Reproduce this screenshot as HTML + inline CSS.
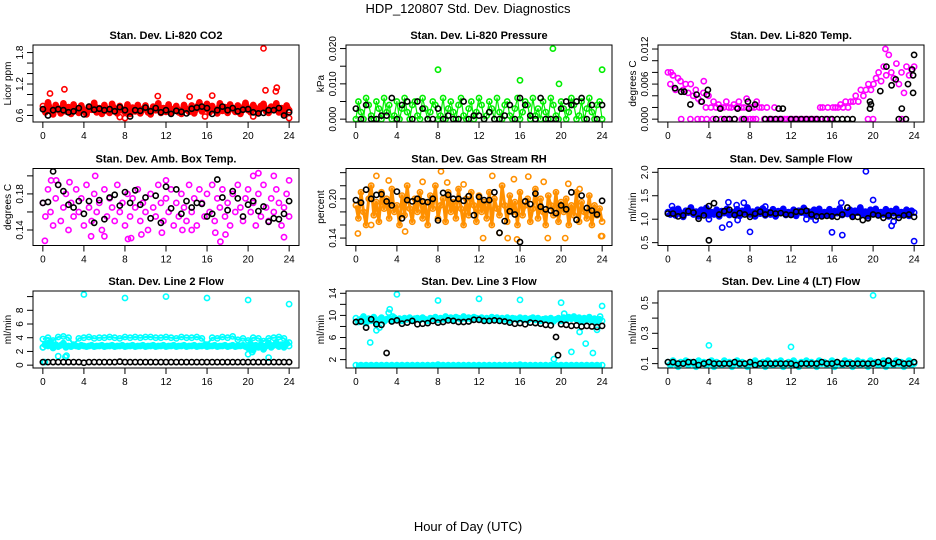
<!DOCTYPE html>
<html><head><meta charset="utf-8"><style>
body{margin:0;background:#fff}
svg{display:block;font-family:"Liberation Sans",Arial,sans-serif}
</style></head><body>
<svg id="chart" width="936" height="540" viewBox="0 0 936 540">
<text x="468" y="13" text-anchor="middle" font-size="13">HDP_120807 Std. Dev. Diagnostics</text>
<text x="468" y="531" text-anchor="middle" font-size="13">Hour of Day (UTC)</text>
</svg>
<script>
// ---- data ----
const xTicks=[0,4,8,12,16,20,24];
const titles=["Stan. Dev. Li-820 CO2","Stan. Dev. Li-820 Pressure","Stan. Dev. Li-820 Temp.","Stan. Dev. Amb. Box Temp.","Stan. Dev. Gas Stream RH","Stan. Dev. Sample Flow","Stan. Dev. Line 2 Flow","Stan. Dev. Line 3 Flow","Stan. Dev. Line 4 (LT) Flow"];
const yTitles=["Licor ppm","kPa","degrees C","degrees C","percent","ml/min","ml/min","ml/min","ml/min"];
const yLims=[[0.53,1.89],[0,0.0202],[0,0.0122],[0.126,0.205],[0.133,0.242],[0.5,2.02],[0,10.4],[1,13.9],[0.09,0.56]];
const yTickVals=[[0.6,0.8,1.0,1.2,1.4,1.6,1.8],[0,0.005,0.01,0.015,0.02],[0,0.002,0.004,0.006,0.008,0.01,0.012],[0.14,0.16,0.18,0.20],[0.14,0.16,0.18,0.20,0.22,0.24],[0.5,1.0,1.5,2.0],[0,2,4,6,8,10],[2,4,6,8,10,12,14],[0.1,0.2,0.3,0.4,0.5]];
const yTickLabels=[["0.6","","","1.2","","","1.8"],["0.000","","0.010","","0.020"],["0.000","","","0.006","","","0.012"],["0.14","","0.18",""],["0.14","","","0.20","",""],["0.5","1.0","1.5","2.0"],["0","2","4","6","8",""],["2","","6","","10","","14"],["0.1","","0.3","","0.5"]];
const colors=["#ff0000","#00ee00","#ff00ff","#ff00ff","#ff9000","#0000ff","#00ffff","#00ffff","#00ffff"];

const co2Main=[0.78,0.66,0.85,0.70,0.62,0.80,0.72,0.64,0.83,0.68,0.76,0.63,0.81,0.70,0.65,0.79,0.68,0.62,0.77,0.71,0.84,0.66,0.74,0.63,0.80,0.69,0.65,0.82,0.72,0.64,0.78,0.70,0.66,0.81,0.63,0.75,0.68,0.80,0.64,0.72,0.79,0.66,0.62,0.77,0.70,0.83,0.65,0.74,0.67,0.81,0.64,0.72,0.78,0.66,0.63,0.80,0.71,0.67,0.79,0.64,0.75,0.85,0.68,0.72,0.82,0.66,0.78,0.70,0.64,0.83,0.69,0.76,0.65,0.81,0.72,0.67,0.79,0.63,0.74,0.84,0.70,0.66,0.80,0.73,0.64,0.78,0.82,0.68,0.65,0.77,0.71,0.83,0.66,0.74,0.63,0.79,0.70];
const co2OutH=[0.7,2.1,8.0,11.2,14.3,16.5,21.5,21.7,22.8,22.7,24,7.5,15.8,20.5];
const co2OutV=[1.02,1.10,0.55,0.97,0.96,0.98,1.88,1.08,1.13,1.06,0.55,0.57,0.58,0.58];
const co2Black=[0.72,0.60,0.70,0.72,0.70,0.66,0.68,0.74,0.62,0.77,0.71,0.73,0.70,0.72,0.68,0.76,0.70,0.58,0.70,0.69,0.75,0.68,0.74,0.66,0.70,0.63,0.69,0.67,0.64,0.73,0.75,0.77,0.74,0.63,0.70,0.77,0.70,0.74,0.68,0.71,0.72,0.66,0.64,0.65,0.70,0.70,0.74,0.60,0.66];

const presMain=[0,0.005,0.002,0,0.006,0.004,0.001,0,0.005,0.003,0,0.006,0.002,0.004,0,0.001,0.005,0,0.003,0.006,0.002,0,0.004,0.005,0.001,0,0.006,0.003,0,0.002,0.005,0.004,0,0.001,0.006,0,0.003,0.005,0.002,0,0.004,0.006,0.001,0,0.003,0.005,0,0.002,0.006,0.004,0,0.001,0.005,0.003,0,0.006,0.002,0,0.004,0.005,0.001,0,0.003,0.006,0,0.002,0.005,0.004,0,0.006,0.001,0.003,0,0.005,0.002,0,0.006,0.004,0.001,0,0.005,0.003,0,0.002,0.006,0.004,0,0.001,0.005,0,0.003,0.006,0.002,0,0.004,0.005,0];
const presOutH=[8,16,19.2,19.8,24];
const presOutV=[0.014,0.011,0.020,0.010,0.014];
const presBlack=[0.003,0,0.004,0,0,0.001,0.001,0.006,0,0.004,0.005,0,0.005,0.003,0,0,0.003,0,0.001,0,0,0.005,0,0.001,0.001,0,0.002,0,0,0.001,0.004,0,0.006,0.004,0.001,0,0.006,0,0,0,0.003,0.005,0.004,0.005,0.006,0,0.004,0,0.004];

const tempMain=[0.008,0.006,0.0075,0.005,0.007,0.0065,0.005,0.006,0.0045,0.006,0.004,0.005,0.0035,0.003,0.0045,0.002,0.004,0.002,0.003,0.002,0.0025,0.002,0.002,0.003,0.002,0.002,0.0025,0.002,0.003,0.002,0.002,0.0035,0.002,0.002,0.002,0.003,0.002,0.002,0,0.002,0,0,0.002,0,0,0,0,0,0,0,0,0,0,0,0,0,0,0,0,0,0.002,0.002,0,0.002,0,0.002,0.002,0.002,0.0025,0.002,0.003,0.002,0.003,0.003,0.004,0.003,0.005,0.004,0.005,0.006,0.005,0.006,0.007,0.008,0.0065,0.009,0.0075,0.011,0.008,0.007,0.0095,0.006,0.008,0.0045,0.009,0.0075,0.0085,0.009];
const tempOutH=[1.3,2.2,2.9,3.3,3.8,4.4,5.2,5.8,6.5,7.2,7.6,8.0,8.3,8.6,19.5,20.0,22.8,0.3,0.5,3.5,21.2];
const tempOutV=[0,0,0,0,0,0,0,0,0,0,0,0,0,0,0,0,0,0.008,0.0075,0.0065,0.012];
const tempBlackH=[0.7,1.3,1.6,2.2,2.8,3.3,3.8,3.9,5.1,6.8,7.9,7.8,8.5,10.8,11.2,19.7,19.8,19.7,20.7,21.3,21.8,22.2,22.8,23.4,23.9,23.9,23.8,24,4.7,5.5,6,6.5,7.4,9.5,10,10.5,11,12,12.5,13,13.5,14,14.5,15,15.5,16,16.5,17,17.5,18,22.5,23.2];
const tempBlackV=[0.0053,0.0047,0.0047,0.0025,0.0042,0.003,0.0042,0.005,0.0018,0.0018,0.0018,0.003,0.0025,0.0018,0.0018,0.0018,0.0025,0.003,0.0048,0.009,0.0058,0.0068,0.0018,0.006,0.0045,0.0075,0.0085,0.011,0,0,0,0,0,0,0,0,0,0,0,0,0,0,0,0,0,0,0,0,0,0,0,0];

const ambMain=[0.17,0.155,0.185,0.16,0.145,0.175,0.19,0.15,0.165,0.18,0.14,0.17,0.155,0.185,0.16,0.175,0.145,0.19,0.165,0.15,0.18,0.16,0.17,0.14,0.185,0.155,0.175,0.165,0.15,0.19,0.16,0.17,0.145,0.18,0.155,0.175,0.165,0.185,0.15,0.17,0.16,0.14,0.18,0.165,0.155,0.19,0.17,0.15,0.175,0.16,0.185,0.145,0.17,0.155,0.18,0.165,0.15,0.19,0.16,0.175,0.145,0.185,0.17,0.155,0.18,0.16,0.19,0.15,0.175,0.165,0.185,0.155,0.17,0.145,0.18,0.16,0.19,0.165,0.15,0.175,0.185,0.16,0.17,0.145,0.18,0.155,0.19,0.165,0.15,0.175,0.16,0.185,0.17,0.145,0.165,0.18,0.155];
const ambOutH=[0.2,0.8,1.3,5.1,8.3,8.6,4.7,6,9.6,11.6,13.6,14.5,16.8,17.3,17.8,21,22.5,23.5,24,20.5,12,2.6];
const ambOutV=[0.128,0.195,0.195,0.2,0.13,0.131,0.133,0.133,0.135,0.137,0.14,0.14,0.137,0.127,0.135,0.203,0.2,0.132,0.195,0.2,0.195,0.193];
const ambBlack=[0.17,0.171,0.205,0.19,0.183,0.168,0.165,0.172,0.158,0.172,0.148,0.173,0.152,0.176,0.179,0.167,0.182,0.17,0.184,0.168,0.176,0.153,0.178,0.148,0.188,0.164,0.185,0.158,0.172,0.165,0.17,0.169,0.155,0.158,0.196,0.176,0.162,0.183,0.175,0.155,0.168,0.172,0.161,0.166,0.149,0.153,0.152,0.158,0.172];

const rhMain=[0.19,0.17,0.21,0.18,0.16,0.2,0.22,0.175,0.195,0.165,0.21,0.185,0.2,0.17,0.215,0.18,0.19,0.16,0.205,0.175,0.22,0.185,0.165,0.2,0.18,0.21,0.17,0.195,0.16,0.205,0.185,0.22,0.17,0.19,0.2,0.165,0.21,0.18,0.195,0.17,0.215,0.185,0.16,0.2,0.175,0.21,0.19,0.165,0.205,0.18,0.195,0.17,0.21,0.16,0.2,0.185,0.175,0.22,0.19,0.165,0.205,0.18,0.195,0.16,0.21,0.175,0.19,0.2,0.165,0.185,0.215,0.17,0.2,0.18,0.16,0.205,0.19,0.175,0.21,0.165,0.195,0.18,0.2,0.16,0.19,0.175,0.21,0.165,0.195,0.18,0.17,0.205,0.16,0.19,0.175,0.185,0.165];
const rhOutH=[0.2,1.5,2,3.2,4.8,6.5,8.3,8.9,10.5,12.4,13.3,14,14.8,15.4,15.7,16.8,18.3,18.7,20.4,20.7,23.9,24,21.8];
const rhOutV=[0.147,0.16,0.235,0.228,0.15,0.226,0.242,0.225,0.222,0.14,0.235,0.148,0.14,0.23,0.138,0.234,0.226,0.14,0.14,0.223,0.143,0.143,0.215];
const rhBlack=[0.198,0.194,0.214,0.2,0.206,0.207,0.196,0.19,0.211,0.17,0.198,0.196,0.2,0.196,0.195,0.2,0.167,0.209,0.206,0.2,0.2,0.197,0.204,0.175,0.203,0.198,0.198,0.21,0.148,0.166,0.181,0.176,0.134,0.196,0.192,0.208,0.188,0.184,0.182,0.178,0.19,0.184,0.21,0.168,0.205,0.186,0.182,0.176,0.197];

const sfMain=[1.15,1.1,1.2,1.08,1.22,1.12,1.05,1.18,1.14,1.25,1.1,1.16,1.06,1.2,1.12,1.24,1.08,1.15,1.1,1.2,1.06,1.17,1.13,1.22,1.09,1.15,1.11,1.21,1.07,1.18,1.14,1.25,1.1,1.16,1.06,1.2,1.12,1.23,1.08,1.15,1.1,1.21,1.06,1.17,1.13,1.22,1.09,1.15,1.11,1.2,1.07,1.18,1.14,1.24,1.1,1.16,1.06,1.2,1.12,1.22,1.08,1.15,1.1,1.21,1.06,1.17,1.13,1.23,1.09,1.15,1.11,1.2,1.07,1.18,1.14,1.25,1.1,1.16,1.06,1.2,1.12,1.22,1.08,1.15,1.1,1.21,1.06,1.17,1.13,1.22,1.09,1.15,1.11,1.2,1.07,1.18,1.14];
const sfOutH=[0.4,4,5.3,6,5.9,6.7,7.4,8,9.5,16,17,16.9,19.3,20,21.8,24,6.8,13.5,14.4,22];
const sfOutV=[1.28,1.0,0.82,0.89,1.36,1.3,1.35,0.73,1.27,0.72,0.66,1.35,2.02,1.41,0.86,0.53,0.98,1.0,0.98,0.95];
const sfBlack=[1.12,1.12,1.06,1.08,1.17,1.14,1.01,1.08,1.28,1.34,1.1,1.17,1.2,1.09,1.13,1.1,1.05,1.12,1.16,1.1,1.14,1.12,1.13,1.1,1.09,1.16,1.16,1.18,1.1,1.06,1.06,1.07,1.06,1.05,1.1,1.25,1.05,1.05,0.98,1.02,1.1,1.08,1.03,1.08,1.07,1.03,1.08,1.1,1.05];
const sfBlackOutH=[4];
const sfBlackOutV=[0.55];

const l2Main=[2.6,3.1,2.8,3.4,2.5,3.0,2.7,2.9,3.2,2.6,2.8,2.7,2.9,2.8,2.7,2.9,2.8,2.7,2.8,2.9,2.7,2.8,2.8,2.9,2.7,2.8,2.8,2.9,2.7,2.8,2.8,2.9,2.7,2.8,2.8,2.9,2.7,2.8,2.8,2.9,2.7,2.8,2.8,2.9,2.7,2.8,2.8,2.9,2.7,2.8,2.8,2.9,2.7,2.8,2.8,2.9,2.7,2.8,2.8,2.9,2.7,2.8,2.8,2.9,2.7,2.8,2.8,2.9,2.7,2.8,2.8,2.9,2.7,2.8,2.9,2.7,2.8,2.8,2.9,2.7,2.5,3.1,2.2,2.9,2.6,3.0,2.3,2.8,3.2,2.6,2.9,3.3,2.7,3.0,2.6,3.2,2.8];
const l2Upper=[3.8,4.0,3.6,4.1,4.2,4.0,3.0,3.9,4.0,4.1,3.9,4.0,4.0,4.1,4.0,3.9,4.1,4.0,4.1,4.0,4.1,4.1,4.0,4.0,4.1,4.0,3.9,4.1,4.0,4.0,4.1,3.9,3.0,4.0,3.9,4.1,4.0,4.2,3.7,3.9,3.6,4.0,3.9,3.5,3.9,4.0,4.1,3.9,3.3];
const l2OutH=[4,8,12,16,20,24,1.5,2.2,2.3,20,20.4,22,0,0.1,0.2];
const l2OutV=[10.3,9.8,10.0,9.8,9.5,8.9,1.3,1.2,1.4,1.6,1.9,1.1,2.6,0.45,0.45];
const l2Black=[0.45,0.45,0.45,0.45,0.45,0.45,0.45,0.45,0.35,0.45,0.45,0.45,0.45,0.45,0.45,0.5,0.45,0.45,0.45,0.45,0.45,0.45,0.45,0.45,0.45,0.45,0.45,0.45,0.45,0.45,0.45,0.45,0.45,0.45,0.45,0.45,0.45,0.45,0.45,0.45,0.45,0.45,0.45,0.45,0.45,0.45,0.45,0.45,0.45];

const l3Main=[9.5,8.8,9.3,9.8,8.6,9.4,9.0,9.7,8.4,9.2,9.6,8.9,9.3,9.5,9.1,9.6,9.2,9.4,9.0,9.5,9.3,9.6,9.1,9.4,9.5,9.2,9.6,9.3,9.0,9.5,9.4,9.7,9.2,9.5,9.3,9.8,9.4,9.6,9.2,9.7,9.5,9.3,9.8,9.4,9.6,9.3,9.7,9.5,9.4,9.6,9.2,9.5,9.3,9.7,9.4,9.6,9.2,9.5,9.3,9.6,9.1,9.5,9.4,9.2,9.6,9.3,9.5,9.1,9.4,9.6,9.2,9.5,9.0,9.3,9.4,9.1,9.5,8.9,9.3,9.5,9.0,9.6,9.2,9.7,9.4,9.8,9.3,9.6,8.9,9.5,9.2,9.7,9.0,9.4,8.8,9.3,9.0];
const l3Low=[1.0,1.0,1.0,1.0,1.0,1.0,1.0,1.0,1.0,1.0,1.0,1.0,1.0,1.0,1.0,1.0,1.1,1.0,1.0,1.0,1.0,1.0,1.0,1.0,1.0,1.0,1.0,1.0,1.0,1.0,1.0,1.0,1.1,1.0,1.0,1.0,1.0,1.0,1.0,1.0,1.0,1.0,1.0,1.0,1.0,1.0,1.0,1.0,1.0];
const l3OutH=[1.4,2,2.3,3.2,3.3,3.6,4,8,12,16,19.3,20,20.3,21,21.8,22.4,23.1,23.5,23.8,24];
const l3OutV=[5.1,7.3,7.8,10.5,11.1,9.8,13.8,12.7,13.0,12.8,2.1,12.3,10.3,3.4,7.0,4.9,3.2,7.4,9.8,11.7];
const l3Black=[8.8,8.9,7.8,9.3,8.4,8.3,3.2,8.9,9.1,8.5,8.7,9.0,8.4,8.5,8.6,9.0,8.7,8.8,9.1,9.0,8.8,8.8,8.9,9.2,9.2,9.0,9.0,9.1,9.0,8.9,8.7,8.5,8.6,8.4,8.7,8.6,8.5,8.3,8.2,6.1,8.4,8.3,8.1,8.2,8.0,8.1,8.0,7.9,8.1];
const l3BlackOutH=[19.7];
const l3BlackOutV=[2.8];

const l4Main=[0.11,0.09,0.12,0.1,0.08,0.11,0.1,0.12,0.09,0.11,0.1,0.08,0.12,0.1,0.11,0.09,0.1,0.12,0.08,0.11,0.1,0.09,0.12,0.1,0.11,0.08,0.1,0.12,0.09,0.11,0.1,0.08,0.11,0.1,0.12,0.09,0.1,0.11,0.08,0.12,0.1,0.09,0.11,0.1,0.12,0.08,0.1,0.11,0.09,0.12,0.1,0.08,0.11,0.1,0.12,0.09,0.11,0.1,0.08,0.12,0.1,0.11,0.09,0.1,0.12,0.08,0.11,0.1,0.09,0.12,0.1,0.11,0.08,0.1,0.12,0.09,0.11,0.1,0.08,0.12,0.1,0.11,0.09,0.1,0.12,0.08,0.11,0.1,0.09,0.12,0.1,0.11,0.08,0.1,0.12,0.09,0.1];
const l4OutH=[4,12,20];
const l4OutV=[0.22,0.21,0.55];
const l4Black=[0.11,0.11,0.1,0.1,0.11,0.11,0.09,0.1,0.11,0.1,0.1,0.1,0.1,0.11,0.1,0.1,0.11,0.09,0.1,0.1,0.1,0.1,0.1,0.1,0.1,0.09,0.1,0.1,0.1,0.1,0.11,0.1,0.1,0.11,0.1,0.1,0.1,0.1,0.1,0.1,0.1,0.11,0.1,0.12,0.1,0.11,0.1,0.1,0.11];

// ---- drawing ----
const svg=document.getElementById('chart');
const NS='http://www.w3.org/2000/svg';
const colX=[33,346,658], rowY=[45,168.5,291], PW=266, PH=77;
function mk(tag,attrs,parent){const e=document.createElementNS(NS,tag);for(const k in attrs)e.setAttribute(k,attrs[k]);(parent||svg).appendChild(e);return e;}
function xs(p,h){const lo=-0.96,span=25.92;return colX[p%3]+(h-lo)/span*PW;}
function ys(p,v){const [a,b]=yLims[p];const pad=(b-a)*0.04;return rowY[Math.floor(p/3)]+PH-(v-(a-pad))/((b-a)*1.08)*PH;}
function pt(g,p,h,v,col,name){
  const c=mk('circle',{cx:xs(p,h).toFixed(1),cy:ys(p,v).toFixed(1),r:2.6,fill:'none',stroke:col,'stroke-width':1.6},g);
  
  
}
function idxSeries(p,vals,col,name,band){const g=mk('g',{});
  
  
  const n=vals.length;
  if(band){
    const d=vals.map((v,i)=>xs(p,24*i/(n-1)).toFixed(1)+','+ys(p,v).toFixed(1)).join(' ');
    const pl=mk('polyline',{points:d,fill:'none',stroke:col,'stroke-width':band,'stroke-linejoin':'round'},g);
    
    
  }
  vals.forEach((v,i)=>pt(g,p,24*i/(n-1),v,col,name));}
function pairSeries(p,hs,vs,col,name){const g=mk('g',{});
  
  
  hs.forEach((h,i)=>pt(g,p,h,vs[i],col,name));}

for(let p=0;p<9;p++){
  const L=colX[p%3],T=rowY[Math.floor(p/3)],B=T+PH,cx=L+PW/2;
  const t=mk('text',{x:cx,y:T-6,'text-anchor':'middle','font-size':11,'font-weight':'bold'});t.textContent=titles[p];
  
  
  const yt=mk('text',{x:L-22,y:T+PH/2,'text-anchor':'middle','font-size':10,transform:`rotate(-90 ${L-22} ${T+PH/2})`});yt.textContent=yTitles[p];
  
  
  xTicks.forEach(h=>{const x=xs(p,h);
    const tk=mk('line',{x1:x,x2:x,y1:B,y2:B+6,stroke:'#000','stroke-width':1});
    
    
    const tl=mk('text',{x:x,y:B+17,'text-anchor':'middle','font-size':10});tl.textContent=h;
    
    });
  yTickVals[p].forEach((v,i)=>{const y=ys(p,v);
    const tk=mk('line',{x1:L-6,x2:L,y1:y,y2:y,stroke:'#000','stroke-width':1});
    
    
    if(yTickLabels[p][i]){const tl=mk('text',{x:L-10,y:y,'text-anchor':'middle','font-size':10,transform:`rotate(-90 ${L-10} ${y})`});tl.textContent=yTickLabels[p][i];
    
    }});
}
const C=colors;
idxSeries(0,co2Main,C[0],'co2-point',6);pairSeries(0,co2OutH,co2OutV,C[0],'co2-outlier');idxSeries(0,co2Black,'#000','co2-mean-point');
idxSeries(1,presMain,C[1],'pressure-point',1.2);pairSeries(1,presOutH,presOutV,C[1],'pressure-outlier');idxSeries(1,presBlack,'#000','pressure-mean-point');
idxSeries(2,tempMain,C[2],'temp-point');pairSeries(2,tempOutH,tempOutV,C[2],'temp-outlier');pairSeries(2,tempBlackH,tempBlackV,'#000','temp-mean-point');
idxSeries(3,ambMain,C[3],'amb-point');pairSeries(3,ambOutH,ambOutV,C[3],'amb-outlier');idxSeries(3,ambBlack,'#000','amb-mean-point');
idxSeries(4,rhMain,C[4],'rh-point',3);pairSeries(4,rhOutH,rhOutV,C[4],'rh-outlier');idxSeries(4,rhBlack,'#000','rh-mean-point');
idxSeries(5,sfMain,C[5],'sample-flow-point',6);pairSeries(5,sfOutH,sfOutV,C[5],'sample-flow-outlier');idxSeries(5,sfBlack,'#000','sample-flow-mean-point');pairSeries(5,sfBlackOutH,sfBlackOutV,'#000','sample-flow-mean-outlier');
idxSeries(6,l2Main,C[6],'line2-point',6);idxSeries(6,l2Upper,C[6],'line2-upper-point',2);pairSeries(6,l2OutH,l2OutV,C[6],'line2-outlier');idxSeries(6,l2Black,'#000','line2-mean-point');
idxSeries(7,l3Main,C[7],'line3-point',6);idxSeries(7,l3Low,C[7],'line3-low-point',5);pairSeries(7,l3OutH,l3OutV,C[7],'line3-outlier');idxSeries(7,l3Black,'#000','line3-mean-point');pairSeries(7,l3BlackOutH,l3BlackOutV,'#000','line3-mean-outlier');
idxSeries(8,l4Main,C[8],'line4-point',6);pairSeries(8,l4OutH,l4OutV,C[8],'line4-outlier');idxSeries(8,l4Black,'#000','line4-mean-point');
for(let p=0;p<9;p++){
  const r=mk('rect',{x:colX[p%3],y:rowY[Math.floor(p/3)],width:PW,height:PH,fill:'none',stroke:'#000','stroke-width':1});
  
  
}
</script>
</body></html>
